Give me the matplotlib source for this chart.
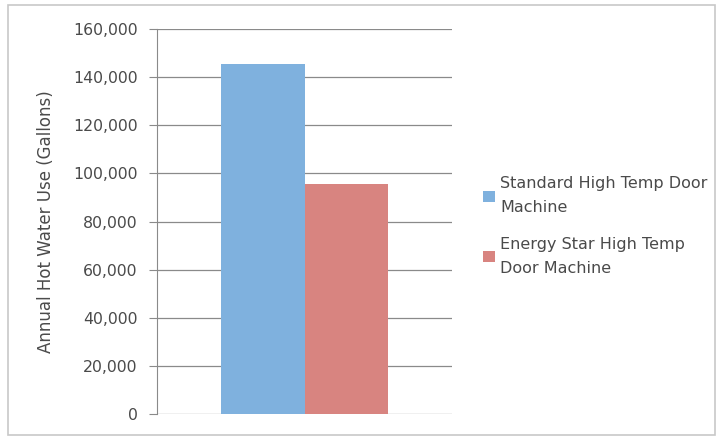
import matplotlib.pyplot as plt
from matplotlib.patches import Rectangle
from matplotlib.ticker import FuncFormatter

# Annual hot water use per machine type
series = ["Standard High Temp Door\nMachine", "Energy Star High Temp\nDoor Machine"]
gallons = [145400, 95700]
colors = ["#7fb1de", "#d88480"]
yticks = [0, 20000, 40000, 60000, 80000, 100000, 120000, 140000, 160000]

plt.rcParams['font.family'] = ['DejaVu Sans']

fig = plt.figure(figsize=(7.2, 4.38), dpi=100)
# chart frame
fig.patches.append(Rectangle((8 / 720, 3 / 438), 707 / 720, 430 / 438, transform=fig.transFigure,
                             fill=False, edgecolor="#c8c8c8", linewidth=1.2))

ax = fig.add_axes([157 / 720, 1 - 414 / 438, 295 / 720, 385 / 438])

width = 0.283
offsets = [-width / 2, width / 2]
handles = []
for off, val, col, lab in zip(offsets, gallons, colors, series):
    h = ax.bar(off, val, width=width, color=col, label=lab, zorder=2)
    handles.append(h)

ax.set_xlim(-0.5, 0.5)
ax.set_ylim(0, 160000)
ax.set_yticks(yticks)
ax.yaxis.set_major_formatter(FuncFormatter(lambda v, p: f"{int(v):,}"))
ax.set_xticks([])
ax.grid(axis="y", color="#8a8a8a", linewidth=0.9, zorder=0)
for s in ["top", "right", "bottom"]:
    ax.spines[s].set_visible(False)
ax.spines["left"].set_color("#8a8a8a")
ax.tick_params(axis="y", length=6, color="#8a8a8a", labelsize=11.3, labelcolor="#4a4a4a", pad=8)
ax.set_ylabel("Annual Hot Water Use (Gallons)", fontsize=12, color="#4a4a4a")
ax.yaxis.set_label_coords(-0.346, 0.5)

leg = fig.legend(handles=handles, labels=series, loc="upper left",
                 bbox_to_anchor=(469 / 720, 1 - 162 / 438),
                 frameon=False, fontsize=11.5, handlelength=0.7, handleheight=0.7,
                 handletextpad=0.35, labelspacing=1.35, labelcolor="#4a4a4a")
for t in leg.get_texts():
    t.set_linespacing(1.75)

fig.savefig("out.png", dpi=100)
